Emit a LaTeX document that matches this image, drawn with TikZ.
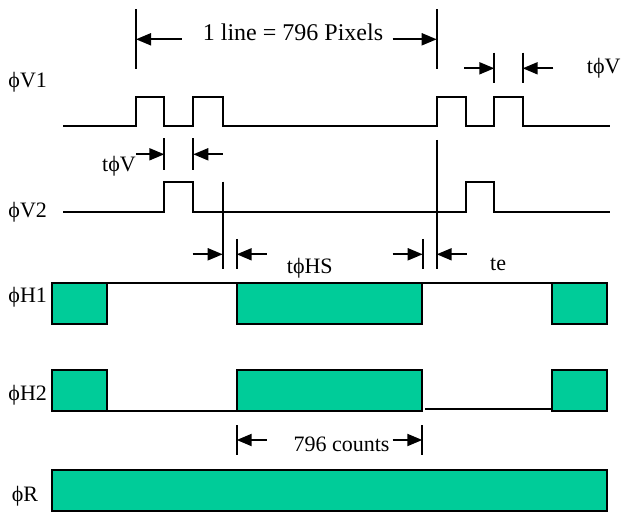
\documentclass[tikz,border=0pt]{standalone}
\usepackage{fontspec}
\setmainfont{Liberation Serif}
\usetikzlibrary{arrows.meta}
\definecolor{fillg}{RGB}{0,204,153}
\begin{document}
\begin{tikzpicture}[x=1pt,y=-1pt,
  sig/.style={line width=2pt, line join=miter},
  pbox/.style={draw, line width=2.2pt, fill=fillg},
  dim/.style={line width=2pt},
  darr/.style={line width=2pt, -{Triangle[length=15pt,width=12pt]}},
  lbl/.style={font=\fontsize{22}{26}\selectfont, inner sep=0pt, anchor=base west},
  dlbl/.style={font=\fontsize{22}{26}\selectfont, inner sep=0pt, anchor=base west}]
\useasboundingbox (0,0) rectangle (624,513);

% signal labels
\node[lbl] (lv1) at (8.3,87.3) {ϕV1};
\node[lbl] (lv2) at (8.3,217.3) {ϕV2};
\node[lbl] (lh1) at (8.3,302.7) {ϕH1};
\node[lbl] (lh2) at (8.3,400.7) {ϕH2};
\node[lbl] (lr)  at (11.7,501.7) {ϕR};

% phi V1
\draw[sig] (63.3,125.7) -| (136,96.7) -| (164.3,125.7) -| (193.3,96.7) -| (222.7,125.7)
  -| (436.7,96.7) -| (465.7,125.7) -| (494.3,96.7) -| (522.7,125.7) -- (610,125.7);
% phi V2
\draw[sig] (63.3,211.7) -| (164.3,182.3) -| (193.3,211.7) -| (465.7,182.3) -| (494.3,211.7) -- (610,211.7);

% phi H1
\draw[sig] (107,283.3) -- (236.7,283.3);
\draw[sig] (422.3,283.3) -- (552.3,283.3);
\draw[pbox] (51.7,283.3) rectangle (107,324.3);
\draw[pbox] (236.7,283.3) rectangle (422.3,324.3);
\draw[pbox] (552.3,283.3) rectangle (607.3,324.3);

% phi H2
\draw[sig] (107,411) -- (237,411);
\draw[sig] (425,409.3) -- (552.3,409.3);
\draw[pbox] (51.7,370) rectangle (107,411);
\draw[pbox] (237,370) rectangle (422.3,411);
\draw[pbox] (552.3,370) rectangle (607.3,411);

% phi R
\draw[pbox] (51.7,470) rectangle (607.3,511);

% top dimension: 1 line
\coordinate (t1a) at (136,9.3);   \coordinate (t1b) at (136,69.3);
\coordinate (t2a) at (436.7,9.3); \coordinate (t2b) at (436.7,69.3);
\draw[dim] (t1a) -- (t1b);
\draw[dim] (t2a) -- (t2b);
\coordinate (a1s) at (181.7,39.3); \coordinate (a1e) at (136,39.3);
\coordinate (a2s) at (392.7,39.3); \coordinate (a2e) at (436.7,39.3);
\draw[darr] (a1s) -- (a1e);
\draw[darr] (a2s) -- (a2e);
\node[font=\fontsize{24}{28}\selectfont, inner sep=0pt, anchor=base west] (tline) at (202.7,41) {1 line = 796 Pixels};

% right t phi V
\draw[dim] (494.3,52.7) -- (494.3,83.3);
\draw[dim] (522.7,52.7) -- (522.7,83.3);
\coordinate (b1s) at (464.3,68.3); \coordinate (b1e) at (494.3,68.3);
\coordinate (b2s) at (553.3,68.3); \coordinate (b2e) at (522.7,68.3);
\draw[darr] (b1s) -- (b1e);
\draw[darr] (b2s) -- (b2e);
\node[lbl] (tvr) at (586.7,74) {tϕV};

% left t phi V
\draw[dim] (164.3,138.3) -- (164.3,170);
\draw[dim] (193.3,138.3) -- (193.3,170);
\coordinate (c1e) at (164.3,154.3);
\coordinate (c2s) at (222.7,154.3); \coordinate (c2e) at (193.3,154.3);
\node[lbl] (tvl) at (102,171.7) {tϕV};
\draw[darr] (tvl.east |- c1e) -- (c1e);
\draw[darr] (c2s) -- (c2e);

% long verticals
\draw[dim] (222.7,181.7) -- (222.7,269.3);
\draw[dim] (436.7,140) -- (436.7,269.3);

% t phi HS and te
\draw[dim] (236.7,239) -- (236.7,269.3);
\draw[dim] (422.7,239) -- (422.7,269.3);
\draw[darr] (192.7,254.3) -- (222.7,254.3);
\draw[darr] (266.7,254.3) -- (236.7,254.3);
\draw[darr] (392.7,254.3) -- (422.7,254.3);
\draw[darr] (466.7,254.3) -- (436.7,254.3);
\node[dlbl] (ths) at (286.7,273.3) {tϕHS};
\node[dlbl] (te) at (490,270) {te};

% 796 counts
\draw[dim] (236.7,425) -- (236.7,455);
\draw[dim] (422.3,425) -- (422.3,455);
\draw[darr] (266.7,440) -- (236.7,440);
\draw[darr] (392.7,440) -- (422.3,440);
\node[dlbl] (cnt) at (293.3,451.7) {796 counts};
\end{tikzpicture}
\end{document}
